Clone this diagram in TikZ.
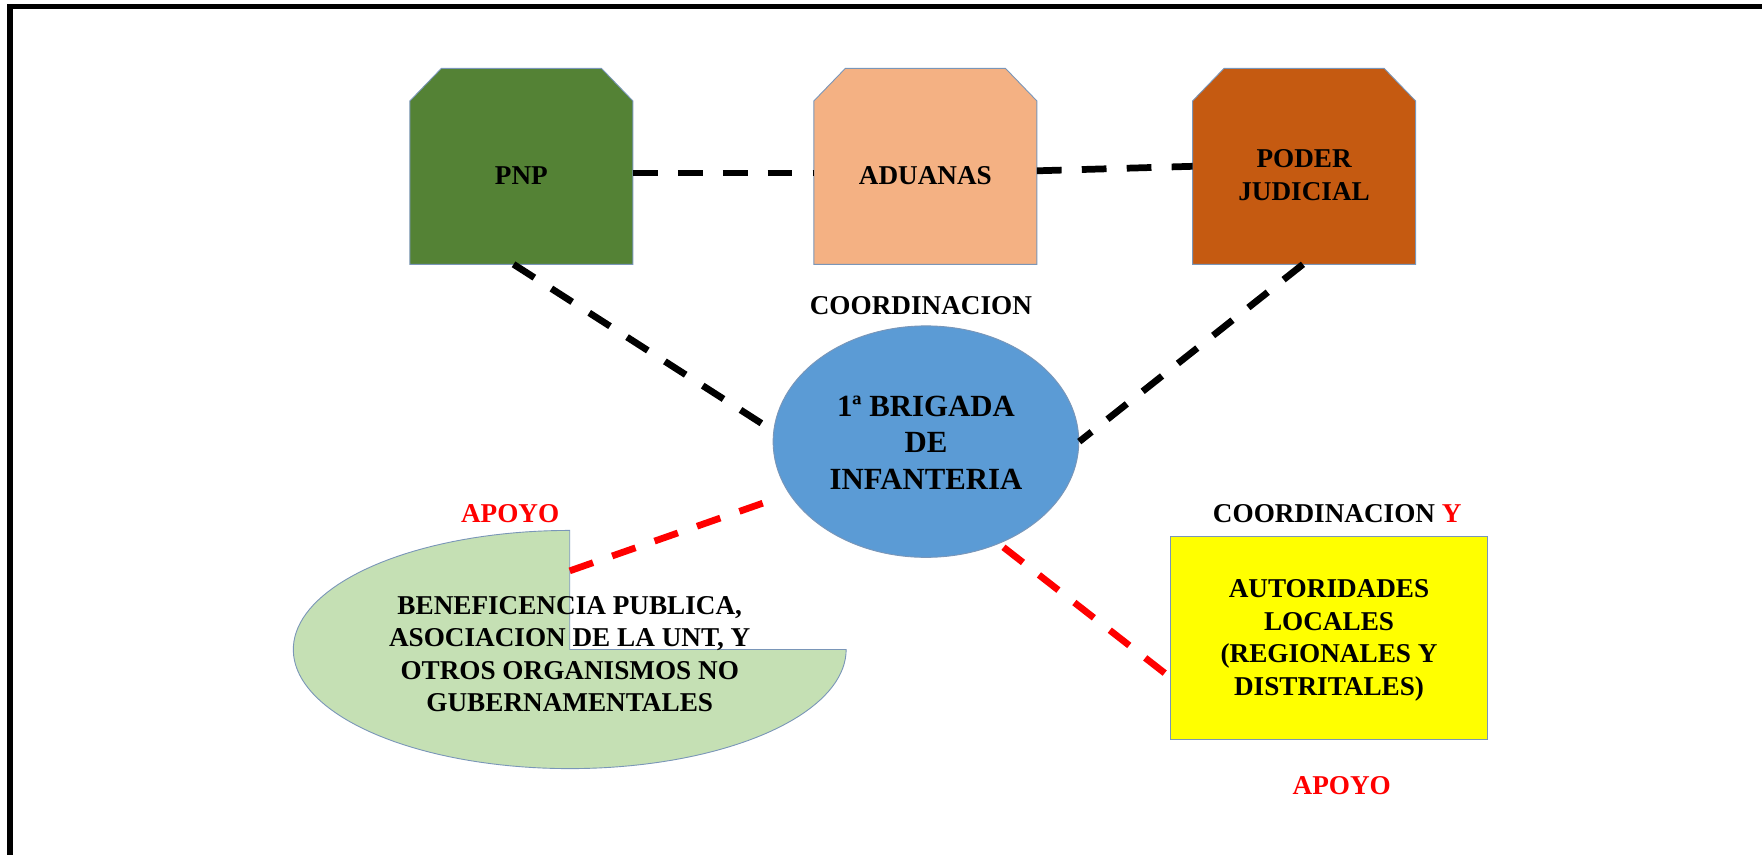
\documentclass[tikz,border=0pt]{standalone}
\usepackage{fontspec}
\setmainfont{Liberation Serif}
\usetikzlibrary{shapes.geometric}
\definecolor{pnpgreen}{HTML}{548235}
\definecolor{aduorange}{HTML}{F4B183}
\definecolor{podbrown}{HTML}{C55A11}
\definecolor{brigblue}{HTML}{5B9BD5}
\definecolor{benegreen}{HTML}{C5E0B4}
\definecolor{edgeblue}{HTML}{7A96B8}
\definecolor{apred}{HTML}{FF0000}
\definecolor{boxyellow}{HTML}{FFFF00}
\begin{document}
\begin{tikzpicture}[x=1pt,y=-1pt,
  lbl/.style={font=\fontsize{24.2}{29}\selectfont\bfseries, align=center, inner sep=0pt},
  biglbl/.style={font=\fontsize{27.4}{32.6}\selectfont\bfseries, align=center, inner sep=0pt},
  boxarea/.style={rectangle, minimum width=198pt, minimum height=174pt, inner sep=0pt},
  outline/.style={draw=edgeblue, line width=0.8pt},
  blackdash/.style={line width=6pt, dash pattern=on 22pt off 18pt, black},
  reddash/.style={line width=6pt, dash pattern=on 22pt off 18pt, apred},
]
\useasboundingbox (0,0) rectangle (1568,760);
\begin{scope}
\clip (0,0) rectangle (1568,760);
\draw[line width=4.7pt] (9,6) rectangle (1700,900);
\end{scope}

% top boxes
\node[boxarea] (pnp) at (464,148) {};
\node[boxarea] (adu) at (823.5,148) {};
\node[boxarea] (pod) at (1160.5,148) {};
\foreach \b/\c in {pnp/pnpgreen, adu/aduorange, pod/podbrown}{
  \filldraw[fill=\c, outline] (\b.south west) -- ([yshift=-29pt]\b.north west) -- ([xshift=28pt]\b.north west)
    -- ([xshift=-28pt]\b.north east) -- ([yshift=-29pt]\b.north east) -- (\b.south east) -- cycle;
}
\node[lbl] (pnpt) at (464,156) {PNP};
\node[lbl] (adut) at (823.5,156) {ADUANAS};
\node[lbl] (podt) at (1160.5,156) {PODER\\JUDICIAL};

% central ellipse
\node[ellipse, fill=brigblue, outline, minimum width=272pt, minimum height=206pt, inner sep=0pt] (brig) at (824,393) {};
\node[biglbl] (brigt) at (824,394) {1ª BRIGADA\\DE\\INFANTERIA};
\node[lbl] (coord1) at (819.5,272) {COORDINACION};

% beneficencia
\filldraw[fill=benegreen, outline] (507,578) -- plot[domain=90:360, samples=120] ({507+246*cos(\x)},{578-106*sin(\x)}) -- cycle;
\coordinate (notch) at (507,508);
\node[lbl] (benet) at (507,582) {BENEFICENCIA PUBLICA,\\ASOCIACION DE LA UNT, Y\\OTROS ORGANISMOS NO\\GUBERNAMENTALES};
\node[lbl, text=apred] (apoyo1) at (454,457) {APOYO};

% autoridades
\node[rectangle, fill=boxyellow, outline, minimum width=282pt, minimum height=181pt, inner sep=0pt] (autl) at (1182.7,567.5) {};
\node[lbl] (autt) at (1182.7,570) {AUTORIDADES\\LOCALES\\(REGIONALES Y\\DISTRITALES)};
\node[lbl] (coord2) at (1190,457.5) {COORDINACION {\color{apred}Y}};
\node[lbl, text=apred] (apoyo2) at (1194,699) {APOYO};

% connectors
\coordinate (r1) at (681,447);
\coordinate (r2) at (893,487);
\draw[blackdash] ([yshift=-6pt]pnp.east) -- ([yshift=-6pt]adu.west);
\draw[blackdash] ([yshift=-4pt]adu.east) -- (pod.west);
\draw[blackdash] ([xshift=-7pt]pnp.south) -- (brig.176.7);
\draw[blackdash] ([xshift=-1pt]pod.south) -- (brig.0.5);
\draw[reddash] (notch) -- (r1);
\draw[reddash] (r2) -- (autl.194.5);
\end{tikzpicture}
\end{document}
